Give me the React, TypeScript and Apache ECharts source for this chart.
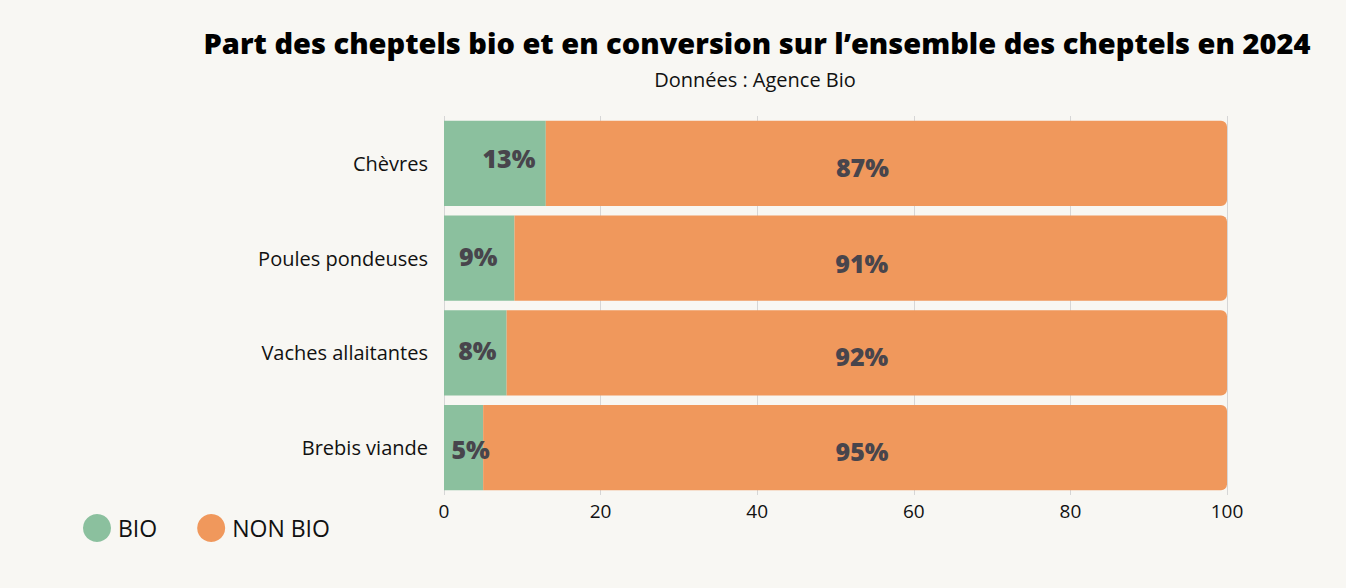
import React, { useEffect, useRef } from "react";
import * as echarts from "echarts";

const categories = ["Brebis viande", "Vaches allaitantes", "Poules pondeuses", "Chèvres"];
const bioValues = [5, 8, 9, 13];
const nonBioValues = [95, 92, 91, 87];
const xTicks = [0, 20, 40, 60, 80, 100];

const bioLabelOffsets = [[7, 1], [2, -3], [-1, -2], [14, -5]];
const nonBioLabelOffsets = [[7, 3], [-5, 3], [-9, 5], [-24, 4]];

const GREEN = "#8bc09e";
const ORANGE = "#f0985c";
const LABEL = "#48454c";
const FONT = "'Open Sans', Lato, sans-serif";

export default function App() {
  const ref = useRef<HTMLDivElement>(null);
  useEffect(() => {
    if (!ref.current) return;
    const chart = echarts.init(ref.current, null, { renderer: "svg" });
    const labelStyle = {
      show: true,
      color: LABEL,
      fontSize: 25,
      fontWeight: 800,
      fontFamily: FONT,
      formatter: (p: any) => `${p.value}%`,
    };
    chart.setOption({
      animation: false,
      backgroundColor: "#f8f7f3",
      textStyle: { fontFamily: FONT },
      title: [
        {
          text: "Part des cheptels bio et en conversion sur l’ensemble des cheptels en 2024",
          left: 752,
          top: 23,
          textAlign: "center",
          textStyle: { fontSize: 29, fontWeight: 800, color: "#000", fontFamily: FONT },
        },
        {
          text: "Données : Agence Bio",
          left: 750,
          top: 64,
          textAlign: "center",
          textStyle: { fontSize: 20, fontWeight: 400, color: "#111", fontFamily: FONT },
        },
      ],
      legend: {
        left: 78,
        top: 509,
        itemWidth: 28,
        itemHeight: 28,
        itemGap: 40,
        icon: "circle",
        textStyle: { fontSize: 23, color: "#111", fontFamily: FONT, padding: [0, 0, 0, 2] },
        data: ["BIO", "NON BIO"],
      },
      grid: { left: 444, right: 119, top: 116, bottom: 93 },
      xAxis: {
        type: "value",
        min: 0,
        max: 100,
        interval: 20,
        axisLine: { show: false },
        axisTick: { show: false },
        splitLine: { show: true, lineStyle: { color: "#d6d6d6", width: 1 } },
        axisLabel: {
          fontSize: 19,
          color: "#111",
          margin: 6,
          fontFamily: FONT,
          formatter: (v: number) => (xTicks.includes(v) ? String(v) : ""),
        },
      },
      yAxis: {
        type: "category",
        data: categories,
        axisLine: { show: false },
        axisTick: { show: false },
        axisLabel: { fontSize: 20, color: "#111", margin: 16, fontFamily: FONT },
      },
      series: [
        {
          name: "BIO",
          type: "bar",
          stack: "total",
          barWidth: "90%",
          itemStyle: { color: GREEN },
          data: bioValues.map((v, i) => ({
            value: v,
            label: { ...labelStyle, position: "inside", offset: bioLabelOffsets[i] },
          })),
        },
        {
          name: "NON BIO",
          type: "bar",
          stack: "total",
          barWidth: "90%",
          itemStyle: { color: ORANGE, borderRadius: [0, 6, 6, 0] },
          data: nonBioValues.map((v, i) => ({
            value: v,
            label: { ...labelStyle, position: "inside", offset: nonBioLabelOffsets[i] },
          })),
        },
      ],
    });
    return () => chart.dispose();
  }, []);
  return (
    <div
      ref={ref}
      style={{ position: "fixed", left: 0, top: 0, width: 1346, height: 588 }}
    />
  );
}
